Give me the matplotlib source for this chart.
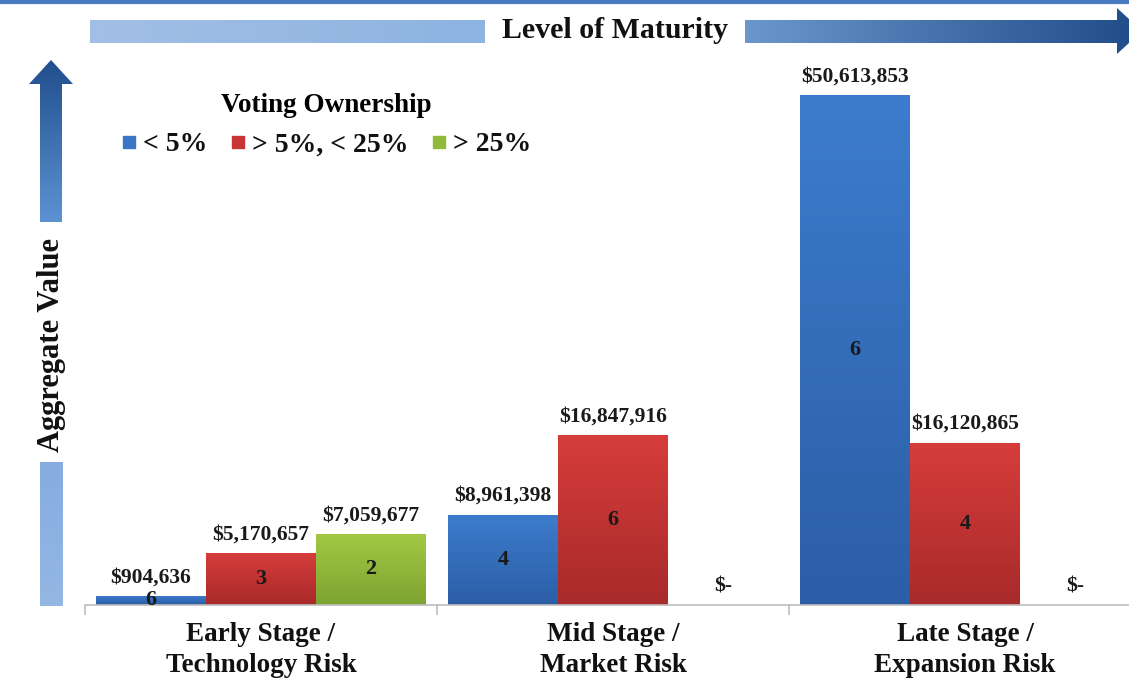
import numpy as np
import matplotlib.pyplot as plt
from matplotlib.colors import LinearSegmentedColormap
from matplotlib.patches import Polygon
from matplotlib.lines import Line2D

# data
stages = ["Early Stage /\nTechnology Risk", "Mid Stage /\nMarket Risk", "Late Stage /\nExpansion Risk"]
series = ["< 5%", "> 5%, < 25%", "> 25%"]
value_lt5 = [904636, 8961398, 50613853]
value_5to25 = [5170657, 16847916, 16120865]
value_gt25 = [7059677, 0, 0]
count_lt5 = [6, 4, 6]
count_5to25 = [3, 6, 4]
count_gt25 = [2, 0, 0]

values = [value_lt5, value_5to25, value_gt25]
counts = [count_lt5, count_5to25, count_gt25]
# (top colour, bottom colour) for each series
colors = [("#3d7ccd", "#2b5ea6"), ("#d63d3b", "#a82a2a"), ("#a3c944", "#7da331")]
legend_colors = ["#3a76c6", "#c93434", "#8fba3a"]

plt.rcParams['font.family'] = ['Liberation Serif', 'DejaVu Serif']
plt.rcParams['font.weight'] = 'bold'

W, H = 1129, 679
fig = plt.figure(figsize=(W / 100, H / 100), dpi=100)


def grad_fill(ax, verts, extent, c0, c1, horizontal=False, zorder=1):
    # c0 goes to the top (or left) of the extent, c1 to the bottom (or right)
    cmap = LinearSegmentedColormap.from_list('g', [c0, c1])
    g = np.linspace(0, 1, 256)
    arr = g[None, :] if horizontal else g[:, None]
    im = ax.imshow(arr, extent=extent, cmap=cmap, aspect='auto', zorder=zorder,
                   interpolation='bilinear')
    poly = Polygon(verts, closed=True, facecolor='none', edgecolor='none')
    ax.add_patch(poly)
    im.set_clip_path(poly)


# decoration layer in pixel coordinates
deco = fig.add_axes([0, 0, 1, 1], zorder=0)
deco.set_xlim(0, W)
deco.set_ylim(H, 0)
deco.axis('off')

deco.plot([0, W], [1.5, 1.5], color="#4a7bc0", lw=3, solid_capstyle='butt')

# horizontal "Level of Maturity" arrow
grad_fill(deco, [(90, 20), (485, 20), (485, 43), (90, 43)], (90, 485, 43, 20),
          "#a2bfe6", "#8db3e1", horizontal=True)
grad_fill(deco, [(745, 20), (1117, 20), (1117, 8), (1142, 31), (1117, 54), (1117, 43), (745, 43)],
          (745, 1142, 54, 8), "#6a97cc", "#1f4b88", horizontal=True)
deco.text(615, 30, "Level of Maturity", ha='center', va='center', fontsize=21.5,
          fontweight='bold', color="#111111")

# vertical "Aggregate Value" arrow
grad_fill(deco, [(51, 60), (73, 84), (62, 84), (62, 222), (40, 222), (40, 84), (29, 84)],
          (29, 73, 222, 60), "#214e8c", "#5d93d3")
grad_fill(deco, [(40, 462), (63, 462), (63, 606), (40, 606)], (40, 63, 606, 462),
          "#86ace0", "#94b7e3")
deco.text(52, 345, "Aggregate Value", ha='center', va='center', rotation=90,
          fontsize=22, fontweight='bold', color="#111111")

# main chart
left, bottom = 85, 74
ax = fig.add_axes([left / W, bottom / H, (W - left) / W, 545 / H], zorder=1)
ax.patch.set_alpha(0)

group_px = 352
bar_w = 110 / group_px
x = np.arange(len(stages))
ymax = max(value_lt5) * 545 / 510

for i, (vals, cnts, (c0, c1)) in enumerate(zip(values, counts, colors)):
    xs = x + (i - 1) * bar_w
    for xc, v, n in zip(xs, vals, cnts):
        if v > 0:
            x0, x1 = xc - bar_w / 2, xc + bar_w / 2
            grad_fill(ax, [(x0, 0), (x1, 0), (x1, v), (x0, v)], (x0, x1, 0, v), c0, c1,
                      zorder=2)
            ax.text(xc, v / 2, str(n), ha='center', va='center', fontsize=16,
                    fontweight='bold', color="#1a1a1a", zorder=4)
            label = f"${v:,}"
        else:
            label = "$-"
        ax.annotate(label, (xc, v), xytext=(0, 13.5), textcoords='offset points',
                    ha='center', va='center', fontsize=15.5, fontweight='bold',
                    color="#1a1a1a", zorder=4)

for s in ['top', 'right', 'left']:
    ax.spines[s].set_visible(False)
ax.spines['bottom'].set_color("#bdbdbd")
ax.spines['bottom'].set_linewidth(1.2)
ax.set_yticks([])
ax.set_xticks([-0.5, 0.5, 1.5])
ax.set_xticklabels([])
ax.tick_params(axis='x', which='major', length=7, color="#bdbdbd", width=1.2)
ax.set_xticks(x, minor=True)
ax.set_xticklabels(stages, minor=True, fontsize=19.5, fontweight='bold', color="#111111",
                   linespacing=1.28)
ax.tick_params(axis='x', which='minor', length=0, pad=12.5)

ax.set_xlim(-0.5, -0.5 + (W - left) / group_px)
ax.set_ylim(0, ymax)

handles = [Line2D([], [], marker='s', linestyle='none', markersize=9, color=c)
           for c in legend_colors]
leg = ax.legend(handles, series, title="Voting Ownership", ncol=3, frameon=False,
                loc='upper center', bbox_to_anchor=(326 / W, 1 - 82 / H),
                bbox_transform=fig.transFigure, fontsize=20,
                title_fontproperties={'size': 19.5, 'weight': 'bold'},
                handlelength=0.6, handletextpad=0.2, columnspacing=0.8, borderaxespad=0)
for t in leg.get_texts():
    t.set_fontweight('bold')
    t.set_color("#111111")

fig.savefig("out.png", dpi=100)
